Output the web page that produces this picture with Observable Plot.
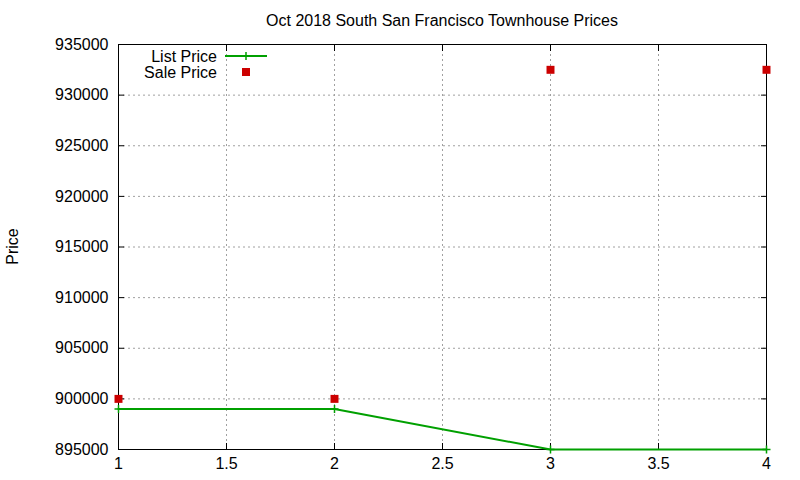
<!DOCTYPE html>
<html><head><meta charset="utf-8">
<script src="https://cdn.jsdelivr.net/npm/d3@7"></script>
<script src="https://cdn.jsdelivr.net/npm/@observablehq/plot@0.6"></script>
<style>body{margin:0;background:#fff}</style>
</head><body><div id="chart"></div>
<script>
const title = "Oct 2018 South San Francisco Townhouse Prices";
const yLabel = "Price";
const seriesNames = ["List Price", "Sale Price"];
const xValues = [1, 2, 3, 4];
const listPrice = [899000, 899000, 895000, 895000];
const salePrice = [900000, 900000, 932500, 932500];
const xTicks = [1, 1.5, 2, 2.5, 3, 3.5, 4];
const yTicks = [895000, 900000, 905000, 910000, 915000, 920000, 925000, 930000, 935000];

const listData = xValues.map((x, i) => ({x, y: listPrice[i]}));
const saleData = xValues.map((x, i) => ({x, y: salePrice[i]}));

const GREEN = "#00a000", RED = "#cc0000";
const FONT = "Liberation Sans, Arial, sans-serif";

const plusSymbol = {
  draw(context, size) {
    const r = Math.sqrt(size / Math.PI);
    context.moveTo(-r, 0); context.lineTo(r, 0);
    context.moveTo(0, -r); context.lineTo(0, r);
  }
};

function decorations(index, scales, values, dim) {
  const g = d3.create("svg:g").attr("font-family", FONT).attr("font-size", 16).attr("fill", "black");
  const cx = (dim.marginLeft + dim.width - dim.marginRight) / 2;
  g.append("text").attr("x", cx).attr("y", 26).attr("text-anchor", "middle").text(title);
  const cy = (dim.marginTop + dim.height - dim.marginBottom) / 2;
  g.append("text").attr("transform", `translate(18,${cy}) rotate(-90)`).attr("text-anchor", "middle").text(yLabel);
  // legend
  const lx = 217, ly1 = 56, ly2 = 72;
  g.append("text").attr("x", lx).attr("y", ly1).attr("dy", "0.35em").attr("text-anchor", "end").text(seriesNames[0]);
  g.append("text").attr("x", lx).attr("y", ly2).attr("dy", "0.35em").attr("text-anchor", "end").text(seriesNames[1]);
  g.append("line").attr("x1", 225).attr("x2", 267).attr("y1", ly1).attr("y2", ly1).attr("stroke", GREEN).attr("stroke-width", 2);
  g.append("path").attr("d", `M242,${ly1}h8M246,${ly1-4}v8`).attr("stroke", GREEN).attr("stroke-width", 1.5);
  g.append("rect").attr("x", 242).attr("y", ly2 - 4).attr("width", 8).attr("height", 8).attr("fill", RED);
  return g.node();
}

const chart = Plot.plot({
  width: 800, height: 480,
  marginLeft: 118, marginRight: 34, marginTop: 44, marginBottom: 31,
  style: {fontFamily: FONT, fontSize: "16px", color: "black", background: "white"},
  x: {domain: [1, 4], ticks: xTicks},
  y: {domain: [895000, 935000], ticks: yTicks},
  marks: [
    Plot.gridX(xTicks, {stroke: "#a0a0a0", strokeOpacity: 1, strokeDasharray: "2,3"}),
    Plot.gridY(yTicks, {stroke: "#a0a0a0", strokeOpacity: 1, strokeDasharray: "2,3"}),
    Plot.axisX(xTicks, {tickSize: 0, tickPadding: 8, tickFormat: d => String(d), label: null, fontSize: 16}),
    Plot.axisY(yTicks, {tickSize: 0, tickPadding: 10, tickFormat: d3.format("d"), label: null, fontSize: 16}),
    Plot.axisX(xTicks, {anchor: "bottom", tickSize: -6, tickFormat: () => "", label: null}),
    Plot.axisX(xTicks, {anchor: "top", tickSize: -6, tickFormat: () => "", label: null}),
    Plot.axisY(yTicks, {anchor: "left", tickSize: -6, tickFormat: () => "", label: null}),
    Plot.axisY(yTicks, {anchor: "right", tickSize: -6, tickFormat: () => "", label: null}),
    Plot.frame({stroke: "black", strokeWidth: 1}),
    Plot.line(listData, {x: "x", y: "y", stroke: GREEN, strokeWidth: 2}),
    Plot.dot(listData, {x: "x", y: "y", symbol: plusSymbol, r: 4, stroke: GREEN, strokeWidth: 1.5, fill: "none"}),
    Plot.dot(saleData, {x: "x", y: "y", symbol: "square", r: 4.5, fill: RED, stroke: "none"}),
    decorations
  ]
});
document.getElementById("chart").append(chart);
</script></body></html>
